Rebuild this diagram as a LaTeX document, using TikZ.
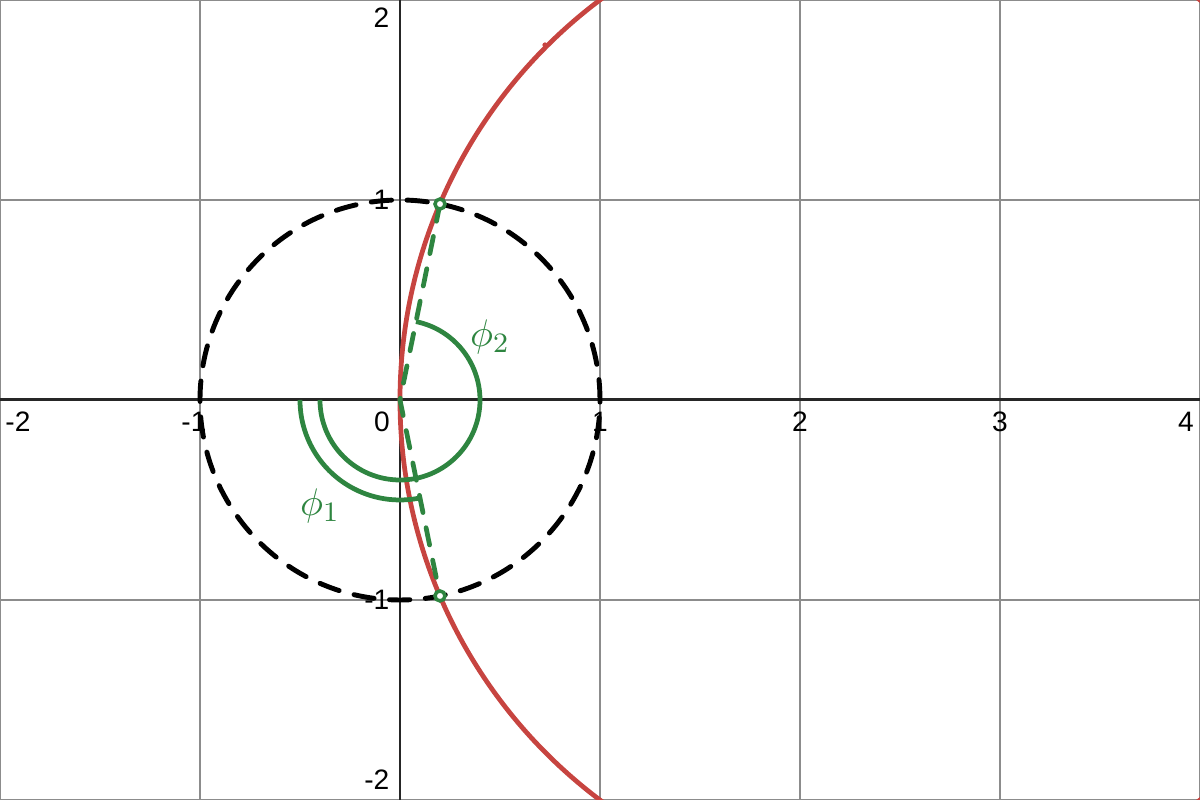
\documentclass[tikz,border=0pt]{standalone}
\usepackage{fontspec}
\setmainfont{Liberation Sans}
\definecolor{dred}{HTML}{C74440}
\definecolor{dgreen}{HTML}{2E8540}
\tikzset{
  gridline/.style={draw=black!45, line width=0.35pt},
  axisline/.style={draw=black!85, line width=0.85pt},
  ticklab/.style={font=\fontsize{8}{9.5}\selectfont, inner sep=0pt},
  unitcirc/.style={draw=black, line width=1.4pt, line cap=round, dash pattern=on 5.8pt off 4.4pt},
  curvered/.style={draw=dred, line width=1.35pt},
  greenline/.style={draw=dgreen, line width=1.35pt},
  greendash/.style={draw=dgreen, line width=1.35pt, line cap=round, dash pattern=on 5pt off 4.4pt},
  anglelab/.style={text=dgreen, font=\fontsize{11}{13}\selectfont, inner sep=0pt},
  ptmark/.style={circle, draw=dgreen, fill=white, line width=1pt, inner sep=0pt, minimum size=0.1cm}
}
\begin{document}
\begin{tikzpicture}[x=2cm,y=2cm]
\useasboundingbox (-2,-2) rectangle (4,2);
\begin{scope}
\clip (-2,-2) rectangle (4,2);
\draw[gridline, step=2cm] (-2,-2) grid (4,2);
\draw[axisline] (-2,0) -- (4,0);
\draw[axisline] (0,-2) -- (0,2);
% tick labels
\node[ticklab] (xm2) at (-1.91,-0.11) {-2};
\node[ticklab] (xm1) at (-1.03,-0.11) {-1};
\node[ticklab] (x0) at (-0.09,-0.11) {0};
\node[ticklab] (x1) at (1.0,-0.11) {1};
\node[ticklab] (x2) at (2.0,-0.11) {2};
\node[ticklab] (x3) at (3.0,-0.11) {3};
\node[ticklab] (x4) at (3.93,-0.11) {4};
\node[ticklab, anchor=east] (y2) at (-0.05,1.91) {2};
\node[ticklab, anchor=east] (y1) at (-0.05,1.0) {1};
\node[ticklab, anchor=east] (ym1) at (-0.05,-1.0) {-1};
\node[ticklab, anchor=east] (ym2) at (-0.05,-1.9) {-2};
% unit circle
\draw[unitcirc] (0,0) circle (1);
% red circle
\draw[curvered] (2.5,0) circle (2.5);
\fill[dred] (0.725,1.775) circle (0.013);
% green construction
\coordinate (O) at (0,0);
\coordinate (P) at (0.2,0.9798);
\coordinate (Q) at (0.2,-0.9798);
\draw[greendash] (P) -- (O) -- (Q);
\draw[greenline] ([shift={(180:0.4)}]O) arc[start angle=180, end angle=438.46, radius=0.4];
\draw[greenline] ([shift={(180:0.5)}]O) arc[start angle=180, end angle=281.54, radius=0.5];
\node[ptmark] (Pm) at (P) {};
\node[ptmark] (Qm) at (Q) {};
\node[anglelab] (phi2) at (0.45,0.315) {$\phi_2$};
\node[anglelab] (phi1) at (-0.4,-0.53) {$\phi_1$};
\end{scope}
\end{tikzpicture}
\end{document}
